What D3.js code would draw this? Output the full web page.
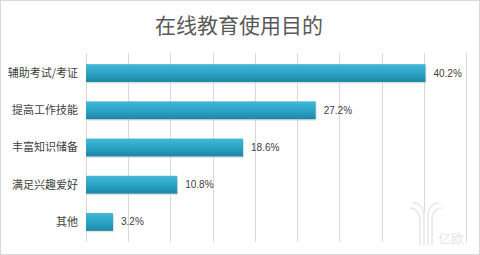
<!DOCTYPE html>
<html>
<head>
<meta charset="utf-8">
<script src="https://cdn.jsdelivr.net/npm/d3@7"></script>
<style>
  body { margin: 0; background: #fff; }
  svg { display: block; font-family: "Noto Sans CJK SC", "Microsoft YaHei", sans-serif; }
</style>
</head>
<body>
<svg id="chart" width="480" height="255"></svg>
<script>
// data
const categories = ['辅助考试/考证', '提高工作技能', '丰富知识储备', '满足兴趣爱好', '其他']
const values = [40.2, 27.2, 18.6, 10.8, 3.2]
const ticks = [0, 5, 10, 15, 20, 25, 30, 35, 40, 45]
const title = '在线教育使用目的'

const WIDTH = 480
const HEIGHT = 255
const margin = {top: 53, right: 14, bottom: 13, left: 86}

const svg = d3.select('#chart')

// frame
svg.append('rect')
  .attr('x', 0.5).attr('y', 0.5)
  .attr('width', WIDTH - 1).attr('height', HEIGHT - 1)
  .attr('fill', '#fff')
  .attr('stroke', '#d9d9d9')

const defs = svg.append('defs')
const grad = defs.append('linearGradient')
  .attr('id', 'barGrad')
  .attr('x1', 0).attr('y1', 0).attr('x2', 0).attr('y2', 1)
grad.append('stop').attr('offset', '0%').attr('stop-color', '#43b8d6')
grad.append('stop').attr('offset', '55%').attr('stop-color', '#2aa2c4')
grad.append('stop').attr('offset', '100%').attr('stop-color', '#1b86a6')

const x = d3.scaleLinear()
  .domain([0, 45])
  .range([margin.left, WIDTH - margin.right])

const y = d3.scaleBand()
  .domain(categories)
  .range([margin.top, HEIGHT - margin.bottom])
  .paddingInner(0.52)
  .paddingOuter(0.3)

// title
svg.append('text')
  .attr('x', 239)
  .attr('y', 33)
  .attr('text-anchor', 'middle')
  .attr('font-size', 21)
  .attr('fill', '#595959')
  .text(title)

// gridlines
svg.append('g')
  .selectAll('line')
  .data(ticks)
  .enter()
  .append('line')
  .attr('x1', d => Math.round(x(d)) + 0.5)
  .attr('x2', d => Math.round(x(d)) + 0.5)
  .attr('y1', margin.top)
  .attr('y2', HEIGHT - margin.bottom)
  .attr('stroke', '#d9d9d9')

// watermark
const wm = svg.append('g').attr('fill', 'none').attr('stroke', '#ececec').attr('stroke-width', 2)
wm.append('path').attr('d', 'M410,208 Q418,208 420,218 L420,245')
wm.append('path').attr('d', 'M413,203 Q423,203 424,216 L424,245')
wm.append('path').attr('d', 'M442,208 Q434,208 432,218 L432,245')
wm.append('path').attr('d', 'M439,203 Q429,203 428,216 L428,245')
svg.append('text')
  .attr('x', 438).attr('y', 243)
  .attr('font-size', 13)
  .attr('fill', '#e6e6e6')
  .text('亿欧')

// bars
const bars = svg.append('g')
bars.selectAll('rect.shadow')
  .data(values)
  .enter()
  .append('rect')
  .attr('class', 'shadow')
  .attr('x', x(0) + 1)
  .attr('y', (d, i) => y(categories[i]) + 1.5)
  .attr('width', d => x(d) - x(0))
  .attr('height', y.bandwidth())
  .attr('fill', '#cfcfcf')
  .attr('opacity', 0.6)

bars.selectAll('rect.bar')
  .data(values)
  .enter()
  .append('rect')
  .attr('class', 'bar')
  .attr('x', x(0))
  .attr('y', (d, i) => y(categories[i]))
  .attr('width', d => x(d) - x(0))
  .attr('height', y.bandwidth())
  .attr('fill', 'url(#barGrad)')

// category labels
svg.append('g')
  .selectAll('text')
  .data(categories)
  .enter()
  .append('text')
  .attr('x', margin.left - 8)
  .attr('y', d => y(d) + y.bandwidth() / 2)
  .attr('dy', '0.35em')
  .attr('text-anchor', 'end')
  .attr('font-size', 11)
  .attr('fill', '#404040')
  .text(d => d)

// value labels
svg.append('g')
  .selectAll('text')
  .data(values)
  .enter()
  .append('text')
  .attr('x', d => x(d) + 8)
  .attr('y', (d, i) => y(categories[i]) + y.bandwidth() / 2)
  .attr('dy', '0.35em')
  .attr('font-size', 10)
  .attr('font-family', 'Liberation Sans, Arial, sans-serif')
  .attr('fill', '#404040')
  .text(d => d.toFixed(1) + '%')
</script>
</body>
</html>
